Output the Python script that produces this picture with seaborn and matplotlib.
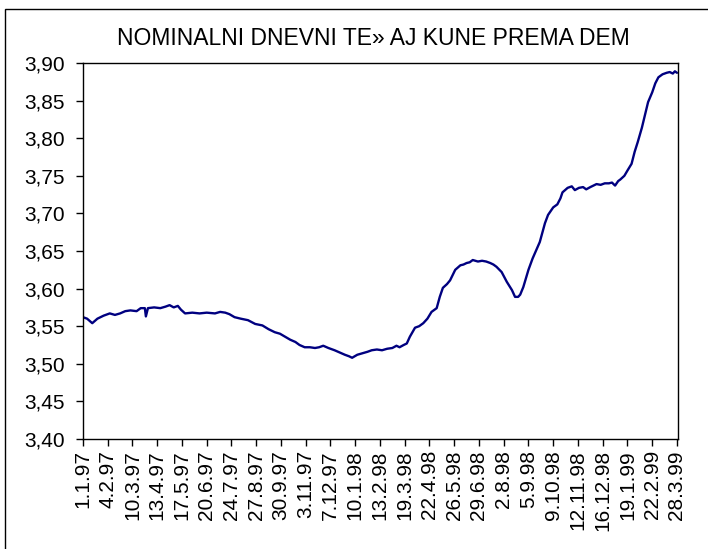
import matplotlib
matplotlib.use("Agg")
import matplotlib.pyplot as plt
import matplotlib.patches as patches
import matplotlib.ticker as mticker
import seaborn as sns
import numpy as np
import pandas as pd

obs = [0, 4, 9, 14, 20, 26, 31, 36, 41, 46, 52, 56, 60, 61, 63, 69, 75, 80, 84, 88,
       92, 95, 99, 106, 113, 120, 128, 133, 138, 142, 147, 153, 160, 167, 174, 180,
       186, 191, 196, 201, 206, 210, 215, 220, 225, 229, 233, 238, 244, 249, 254,
       258, 261, 266, 271, 276, 280, 285, 290, 295, 300, 304, 307, 311, 314, 317,
       322, 326, 330, 334, 338, 343, 346, 349, 353, 356, 361, 366, 369, 372, 375,
       378, 383, 387, 391, 395, 398, 401, 406, 411, 416, 419, 422, 424, 427, 432,
       436, 443, 448, 451, 456, 460, 463, 465, 470, 474, 477, 481, 485, 488, 492,
       498, 502, 506, 510, 513, 516, 519, 521, 525, 528, 532, 535, 538, 542, 545,
       548, 552, 555, 558, 562, 566, 569, 572, 574, 576]
rate = [3.562, 3.560, 3.554, 3.560, 3.564, 3.567, 3.565, 3.567, 3.570, 3.571, 3.570,
        3.574, 3.574, 3.563, 3.574, 3.575, 3.574, 3.576, 3.578, 3.575, 3.577, 3.572,
        3.567, 3.568, 3.567, 3.568, 3.567, 3.569, 3.568, 3.566, 3.562, 3.560, 3.558,
        3.553, 3.551, 3.546, 3.542, 3.540, 3.536, 3.532, 3.529, 3.525, 3.522, 3.522,
        3.521, 3.522, 3.524, 3.521, 3.518, 3.515, 3.512, 3.510, 3.508, 3.512, 3.514,
        3.516, 3.518, 3.519, 3.518, 3.520, 3.521, 3.524, 3.522, 3.525, 3.527, 3.536,
        3.548, 3.550, 3.554, 3.560, 3.569, 3.574, 3.589, 3.601, 3.606, 3.611, 3.625,
        3.631, 3.632, 3.634, 3.635, 3.638, 3.636, 3.637, 3.636, 3.634, 3.632, 3.629,
        3.622, 3.609, 3.598, 3.589, 3.589, 3.592, 3.602, 3.625, 3.640, 3.662, 3.687,
        3.698, 3.708, 3.712, 3.720, 3.728, 3.734, 3.736, 3.731, 3.734, 3.735, 3.732,
        3.735, 3.739, 3.738, 3.740, 3.740, 3.741, 3.737, 3.743, 3.745, 3.750, 3.757,
        3.766, 3.782, 3.795, 3.814, 3.831, 3.848, 3.861, 3.873, 3.881, 3.885, 3.887,
        3.888, 3.886, 3.889, 3.887]

date_labels = ["1.1.97", "4.2.97", "10.3.97", "13.4.97", "17.5.97", "20.6.97",
               "24.7.97", "27.8.97", "30.9.97", "3.11.97", "7.12.97", "10.1.98",
               "13.2.98", "19.3.98", "22.4.98", "26.5.98", "29.6.98", "2.8.98",
               "5.9.98", "9.10.98", "12.11.98", "16.12.98", "19.1.99", "22.2.99",
               "28.3.99"]
label_step = 24
y_ticks = [3.40, 3.45, 3.50, 3.55, 3.60, 3.65, 3.70, 3.75, 3.80, 3.85, 3.90]

df = pd.DataFrame({"obs": obs, "rate": rate})

sns.set_style("ticks")
plt.rcParams["font.family"] = ["Liberation Sans", "DejaVu Sans"]
plt.rcParams["text.color"] = "black"
plt.rcParams["xtick.color"] = "black"
plt.rcParams["ytick.color"] = "black"
plt.rcParams["axes.labelcolor"] = "black"

fig = plt.figure(figsize=(7.08, 5.49), dpi=100)
ax = fig.add_axes([0.1172, 0.2004, 0.8404, 0.6848])

sns.lineplot(data=df, x="obs", y="rate", ax=ax, color="#000080", linewidth=1.7)

xt = [i * label_step for i in range(len(date_labels))]
ax.set_xticks(xt)
ax.set_xticklabels(date_labels, rotation=90, fontsize=15)
ax.set_xlim(0, xt[-1] + 1)
ax.set_ylim(y_ticks[0], y_ticks[-1])
ax.set_yticks(y_ticks)
ax.yaxis.set_major_formatter(mticker.FuncFormatter(lambda v, p: f"{v:.2f}".replace(".", ",")))
ax.tick_params(axis="y", labelsize=15, length=5, width=1, color="black", pad=8)
ax.tick_params(axis="x", length=5, width=1, color="black", pad=3)
ax.set_xlabel("")
ax.set_ylabel("")
for s in ax.spines.values():
    s.set_visible(True)
    s.set_color("black")
    s.set_linewidth(1)

fig.text(0.527, 0.929, "NOMINALNI DNEVNI TE» AJ KUNE PREMA DEM",
         ha="center", va="center", fontsize=16.5, color="black")

# outer chart frame (left and top edges visible)
fig.add_artist(patches.Rectangle((5 / 708, -0.05), 1.1, 1 - 9 / 549 + 0.05,
                                 transform=fig.transFigure, fill=False,
                                 edgecolor="black", linewidth=1, clip_on=False))

fig.savefig("out.png", dpi=100)
